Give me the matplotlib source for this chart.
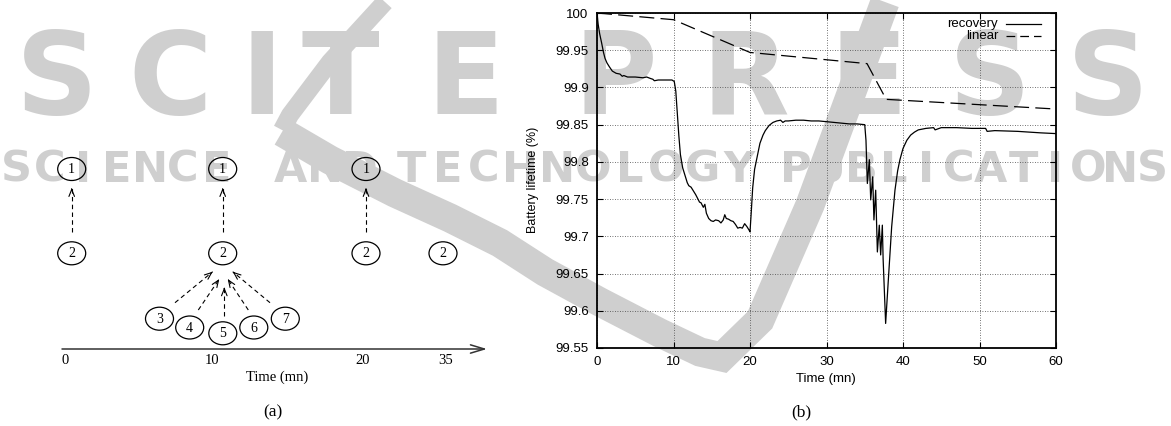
import numpy as np
import matplotlib
matplotlib.use("Agg")
import matplotlib.pyplot as plt
from matplotlib.patches import Ellipse
from matplotlib.lines import Line2D

W, H = 1171, 426

# ---- (b) battery lifetime, minutes vs %
time_recovery = [0.0, 0.15, 0.35, 0.6, 0.85, 1.05, 1.3, 1.6, 2.0, 2.5, 3.0, 3.3, 3.5, 4.0,
                 5.0, 6.0, 6.5, 7.0, 7.3, 7.5, 8.0, 9.0, 9.8, 10.1, 10.3, 10.5, 10.7, 10.9,
                 11.2, 11.5, 11.8, 12.0, 12.3, 12.6, 12.9, 13.2, 13.4, 13.6, 13.9, 14.1,
                 14.3, 14.6, 14.9, 15.2, 15.5, 15.9, 16.2, 16.5, 16.7, 16.9, 17.2, 17.5,
                 17.8, 18.1, 18.4, 18.7, 19.0, 19.3, 19.6, 19.9, 20.0, 20.15, 20.35, 20.6,
                 20.9, 21.3, 21.7, 22.0, 22.5, 23.0, 23.5, 24.0, 24.3, 24.6, 25.0, 26.0,
                 27.0, 28.0, 29.0, 30.0, 31.0, 32.0, 33.0, 34.0, 35.0, 35.16, 35.34, 35.6,
                 35.78, 36.04, 36.2, 36.43, 36.65, 36.9, 37.08, 37.3, 37.4, 37.73, 38.08,
                 38.52, 38.95, 39.3, 39.6, 40.0, 40.5, 41.0, 41.5, 42.0, 43.0, 44.0, 44.2,
                 45.0, 47.0, 49.0, 50.8, 51.0, 52.0, 55.0, 58.0, 60.0]
life_recovery = [100.0, 99.985, 99.972, 99.960, 99.947, 99.939, 99.933, 99.928, 99.922,
                 99.919, 99.918, 99.915, 99.916, 99.914, 99.914, 99.913, 99.914, 99.912,
                 99.911, 99.909, 99.910, 99.910, 99.910, 99.908, 99.895, 99.865, 99.835,
                 99.810, 99.792, 99.782, 99.772, 99.768, 99.766, 99.761, 99.756, 99.750,
                 99.746, 99.745, 99.739, 99.743, 99.731, 99.724, 99.721, 99.720, 99.722,
                 99.721, 99.718, 99.722, 99.729, 99.724, 99.723, 99.721, 99.720, 99.716,
                 99.711, 99.712, 99.711, 99.717, 99.713, 99.708, 99.706, 99.730, 99.765,
                 99.790, 99.805, 99.825, 99.836, 99.842, 99.849, 99.853, 99.855, 99.856,
                 99.853, 99.855, 99.855, 99.856, 99.856, 99.855, 99.855, 99.854, 99.853,
                 99.852, 99.851, 99.851, 99.850, 99.829, 99.771, 99.803, 99.749, 99.780,
                 99.722, 99.762, 99.679, 99.715, 99.675, 99.715, 99.670, 99.583, 99.641,
                 99.713, 99.762, 99.788, 99.803, 99.818, 99.829, 99.836, 99.840, 99.843,
                 99.845, 99.846, 99.843, 99.846, 99.846, 99.845, 99.845, 99.841, 99.842,
                 99.841, 99.839, 99.838]
time_linear = [0, 10, 20, 35.3, 37.8, 60]
life_linear = [100.0, 99.991, 99.947, 99.932, 99.884, 99.871]

x_ticks = [0, 10, 20, 30, 40, 50, 60]
y_ticks = [99.55, 99.6, 99.65, 99.7, 99.75, 99.8, 99.85, 99.9, 99.95, 100]
y_tick_labels = ["99.55", "99.6", "99.65", "99.7", "99.75", "99.8", "99.85",
                 "99.9", "99.95", "100"]

# ---- (a) schedule diagram (pixel layout)
node_labels = ["1", "1", "1", "2", "2", "2", "2", "3", "4", "5", "6", "7"]
node_x = [71.7, 222.7, 366, 71.7, 222.7, 366, 443, 159.5, 189.7, 222.8, 253.8, 285.3]
node_y = [169, 169, 169, 253.3, 253.3, 253.3, 253.3, 318.7, 327.5, 333.3, 327.5, 318.7]
# dashed dependency arrows: (start, end)
dep_arrows = [((71.7, 232), (71.7, 188)), ((222.7, 232), (222.7, 188)),
              ((366, 232), (366, 188)),
              ((175, 302.7), (212.7, 271.7)), ((198.3, 310), (219.3, 279)),
              ((224.3, 315.7), (224.3, 287.3)), ((248.3, 310), (227.7, 279)),
              ((270, 302.7), (232.7, 271.7))]
timeline_labels = ["0", "10", "20", "35"]
timeline_x = [65, 212, 363, 446]

fig = plt.figure(figsize=(W / 100, H / 100), dpi=100)

bg = fig.add_axes([0, 0, 1, 1])
bg.set_xlim(0, W)
bg.set_ylim(H, 0)
bg.axis("off")

# watermark
wm = "#cfcfcf"
top_x = [57, 170, 262, 340, 465, 615, 745, 868, 990, 1108]
for ch, x in zip("SCITEPRESS", top_x):
    bg.text(x, 114, ch, fontsize=82, fontweight="bold", color=wm, family="DejaVu Sans",
            ha="center", va="baseline", zorder=0)
for word, x0, x1 in [("SCIENCE", 0, 233), ("AND", 273, 377),
                     ("TECHNOLOGY", 393, 757), ("PUBLICATIONS", 780, 1169)]:
    pitch = (x1 - x0) / len(word)
    for i, ch in enumerate(word):
        bg.text(x0 + pitch * (i + 0.5), 182, ch, fontsize=31, fontweight="bold",
                color=wm, family="DejaVu Sans", ha="center", va="baseline", zorder=0)
bg.plot([385, 330, 290, 282], [2, 62, 115, 130], color=wm, lw=13,
        solid_capstyle="butt", zorder=0)
bg.plot([282, 330, 395, 450, 500, 545, 600, 660, 700, 722, 760, 810, 885],
        [132, 160, 193, 218, 243, 272, 302, 333, 352, 357, 320, 205, 2],
        color=wm, lw=21, solid_capstyle="butt", solid_joinstyle="miter", zorder=0)

# panel (a)
serif = "Liberation Serif"
for lab, x, y in zip(node_labels, node_x, node_y):
    bg.add_patch(Ellipse((x, y), 28, 23, fill=False, lw=0.9, edgecolor="black", zorder=3))
    bg.text(x, y + 0.5, lab, fontsize=10, family=serif, ha="center", va="center", zorder=3)
for (x0, y0), (x1, y1) in dep_arrows:
    bg.plot([x0, x1], [y0, y1], color="black", lw=0.8, ls=(0, (4, 3)), zorder=3)
    dx, dy = x1 - x0, y1 - y0
    n = np.hypot(dx, dy)
    bg.annotate("", xy=(x1, y1), xytext=(x1 - dx / n * 2, y1 - dy / n * 2),
                arrowprops=dict(arrowstyle="->,head_length=0.5,head_width=0.2",
                                lw=0.8, color="black", shrinkA=0, shrinkB=0), zorder=3)
bg.annotate("", xy=(487, 349), xytext=(62, 349),
            arrowprops=dict(arrowstyle="->,head_length=1.0,head_width=0.3",
                            lw=1.1, color="#333333", shrinkA=0, shrinkB=0), zorder=3)
for lab, x in zip(timeline_labels, timeline_x):
    bg.text(x, 361, lab, fontsize=10.5, family=serif, ha="center", va="center")
bg.text(277, 377, "Time (mn)", fontsize=10.5, family=serif, ha="center", va="center")
bg.text(273, 412, "(a)", fontsize=12.5, family=serif, ha="center", va="center")

# panel (b)
sans = "Liberation Sans"
ax = fig.add_axes([597 / W, 1 - 348 / H, 459 / W, 335 / H])
ax.set_facecolor("none")
ax.plot(time_recovery, life_recovery, color="black", lw=0.9)
ax.plot(time_linear, life_linear, color="black", lw=0.9, ls=(0, (12, 5)))
ax.set_xlim(0, 60)
ax.set_ylim(99.55, 100)
ax.set_xticks(x_ticks)
ax.set_yticks(y_ticks)
ax.set_yticklabels(y_tick_labels)
ax.grid(True, color="#444444", lw=0.6, ls=(0, (1, 2)))
ax.tick_params(direction="in", length=4, width=0.8, top=True, right=True,
               labelsize=9.5, pad=6)
for lbl in ax.get_xticklabels() + ax.get_yticklabels():
    lbl.set_family(sans)
for sp in ax.spines.values():
    sp.set_linewidth(1.3)

# key, gnuplot style (right-aligned labels)
for txt, ls, yy in [("recovery", "-", 0.967), ("linear", (0, (7, 4)), 0.931)]:
    ax.text(0.874, yy, txt, transform=ax.transAxes, ha="right", va="center",
            fontsize=9.5, family=sans)
    ax.add_artist(Line2D([0.891, 0.967], [yy, yy], transform=ax.transAxes,
                         color="black", lw=0.9, ls=ls))

bg.text(533, 180, "Battery lifetime (%)", rotation=90, fontsize=9, family=sans,
        ha="center", va="center")
bg.text(826, 379, "Time (mn)", fontsize=9.5, family=sans, ha="center", va="center")
bg.text(801, 412, "(b)", fontsize=12.5, family=serif, ha="center", va="center")

fig.savefig("out.png", dpi=100)
